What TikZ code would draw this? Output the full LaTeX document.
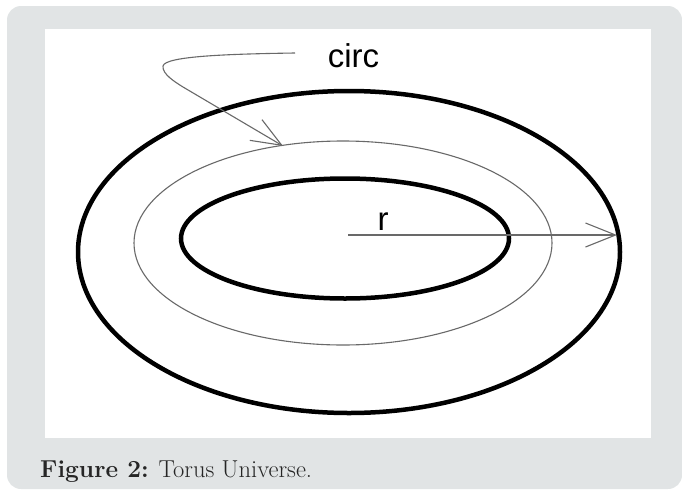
\documentclass[tikz,border=0pt]{standalone}
\usepackage{fontspec}
\newfontfamily\labelfont{Liberation Sans}
\usetikzlibrary{arrows.meta}
\definecolor{panelgray}{RGB}{225,228,229}
\definecolor{penline}{RGB}{105,105,105}

\begin{document}
\begin{tikzpicture}[x=1pt, y=-1pt, >={Straight Barb[length=30pt,width=24pt]},
    thickring/.style={line width=4.5pt, black},
    thinring/.style={line width=1.1pt, penline},
    pen/.style={line width=1.1pt, penline}]
    \useasboundingbox (0,0) rectangle (682,490);
    % Panel
    \fill[panelgray, rounded corners=14pt] (7,6) rectangle (682,489);
    \fill[white] (45,29) rectangle (651,438);
    % Rings
    \draw[thickring] (349,252) ellipse [x radius=271pt, y radius=161pt];
    \draw[thinring] (343,243) ellipse [x radius=209pt, y radius=102pt];
    \draw[thickring] (345,238.5) ellipse [x radius=164pt, y radius=60pt];
    % Labels
    \node[font=\labelfont\fontsize{33}{36}\selectfont, anchor=base, inner sep=0pt] (circ) at (353.5,67) {circ};
    \node[font=\labelfont\fontsize{33}{36}\selectfont, anchor=base, inner sep=0pt] (rlab) at (383,230) {r};
    % Arrows
    \coordinate (rtail) at (348,235);
    \coordinate (rtip) at (617,235);
    \draw[pen, ->] (rtail) -- (rtip);
    \coordinate (circtail) at (295,53);
    \coordinate (circtip) at (283,146);
    \draw[pen, ->] (circtail) .. controls (230,54) and (165,56) .. (163,66) .. controls (162,74) and (175,82) .. (183,87) -- (circtip);
    % Caption
    \node[anchor=base west, font=\fontsize{24.5}{28}\selectfont, text=black!85, inner sep=0pt] (caption) at (40,477) {\textbf{Figure 2:} Torus Universe.};
\end{tikzpicture}
\end{document}
